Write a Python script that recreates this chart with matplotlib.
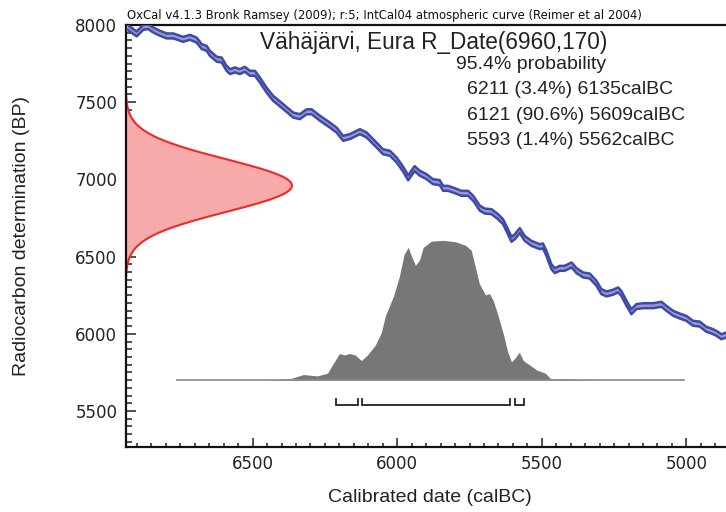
import matplotlib.pyplot as plt
import numpy as np
from matplotlib.ticker import MultipleLocator

# IntCal04 atmospheric curve over the plotted range (calBC, BP)
cal_bc = [6933, 6901, 6878, 6861, 6844, 6820, 6797, 6774, 6740, 6717, 6694, 6676,
          6659, 6648, 6624, 6607, 6590, 6578, 6561, 6544, 6527, 6509, 6492, 6475,
          6452, 6429, 6394, 6360, 6337, 6313, 6296, 6267, 6233, 6210, 6187, 6164,
          6152, 6129, 6106, 6083, 6066, 6049, 6025, 6002, 5979, 5962, 5940, 5922,
          5899, 5876, 5853, 5841, 5824, 5801, 5778, 5755, 5737, 5714, 5697, 5674,
          5651, 5634, 5617, 5605, 5593, 5576, 5559, 5536, 5507, 5496, 5484, 5467,
          5455, 5438, 5421, 5397, 5380, 5357, 5334, 5311, 5294, 5276, 5254, 5236,
          5225, 5207, 5190, 5173, 5150, 5115, 5086, 5069, 5046, 5023, 5000, 4977,
          4954, 4931, 4913, 4896, 4879, 4862]
c14_bp = [7985, 7942, 7985, 7989, 7968, 7946, 7929, 7929, 7907, 7920, 7903, 7860,
          7849, 7817, 7778, 7773, 7719, 7698, 7709, 7698, 7713, 7687, 7687, 7644,
          7579, 7525, 7471, 7417, 7406, 7438, 7438, 7396, 7352, 7320, 7266, 7277,
          7288, 7309, 7288, 7244, 7212, 7179, 7169, 7126, 7065, 7010, 7070, 7040,
          7018, 6985, 6979, 6942, 6942, 6927, 6910, 6910, 6877, 6813, 6795, 6791,
          6758, 6726, 6661, 6612, 6629, 6668, 6618, 6586, 6564, 6569, 6521, 6435,
          6409, 6424, 6424, 6446, 6409, 6381, 6374, 6327, 6273, 6258, 6269, 6284,
          6262, 6197, 6143, 6176, 6182, 6182, 6191, 6165, 6133, 6115, 6100, 6068,
          6063, 6029, 6018, 6003, 5981, 5992]
curve_sigma = 16

# Radiocarbon measurement R_Date(6960,170)
sample_name = "Vähäjärvi, Eura"
r_date_bp = 6960
r_date_err = 170

# Calibrated probability, relative to its maximum
post_bc = [6763, 6500, 6435, 6371, 6324, 6276, 6241, 6221, 6200, 6183, 6165, 6145,
           6124, 6103, 6076, 6055, 6041, 6013, 5993, 5976, 5962, 5951, 5937, 5923,
           5910, 5882, 5840, 5799, 5764, 5744, 5730, 5716, 5695, 5681, 5668, 5654,
           5633, 5619, 5605, 5592, 5578, 5564, 5543, 5516, 5488, 5467, 5426, 5370,
           5300, 5008]
post_prob = [0, 0, 0.002, 0.01, 0.04, 0.03, 0.05, 0.12, 0.19, 0.18, 0.19, 0.18,
             0.14, 0.18, 0.25, 0.34, 0.46, 0.60, 0.74, 0.90, 0.95, 0.89, 0.82, 0.86,
             0.95, 0.995, 1.0, 0.99, 0.965, 0.93, 0.81, 0.69, 0.61, 0.62, 0.57, 0.48,
             0.33, 0.21, 0.13, 0.16, 0.20, 0.14, 0.11, 0.07, 0.05, 0.005, 0.012, 0.004,
             0, 0]

# 95.4% probability ranges (calBC)
range_from = [6211, 6121, 5593]
range_to = [6135, 5609, 5562]
range_pct = [3.4, 90.6, 1.4]

text_font = "Liberation Sans"

fig = plt.figure(figsize=(7.26, 5.12), dpi=100)
ax = fig.add_axes([0.1731, 0.127, 0.8269, 0.8242])

# calibration curve band
cal = np.array(c14_bp, dtype=float)
ax.fill_between(cal_bc, cal - curve_sigma, cal + curve_sigma, color="#9a9ad2", lw=0, zorder=3)
ax.plot(cal_bc, cal + curve_sigma, color="#3d4aa6", lw=1.8, zorder=4)
ax.plot(cal_bc, cal - curve_sigma, color="#3d4aa6", lw=1.8, zorder=4)

# measured date as a normal distribution on the y axis
bp = np.linspace(r_date_bp - 4 * r_date_err, r_date_bp + 4 * r_date_err, 400)
dens = np.exp(-0.5 * ((bp - r_date_bp) / r_date_err) ** 2)
yx = ax.get_yaxis_transform()
ax.fill_betweenx(bp, 0, dens * 0.277, transform=yx, color="#f6aaaa", lw=0, zorder=2)
ax.plot(dens * 0.277, bp, transform=yx, color="#ec2a2a", lw=1.5, zorder=2)

# calibrated distribution
base = 5700
height = 905
prob = np.array(post_prob)
ax.fill_between(post_bc, base, base + prob * height, color="#777777", lw=0, zorder=2)
ax.plot([post_bc[0], post_bc[-1]], [base, base], color="#8a8a8a", lw=1.2, zorder=2)

# range brackets
for a, b in zip(range_from, range_to):
    ax.plot([a, a, b, b], [5575, 5537, 5537, 5575], color="#222222", lw=1.3,
            solid_joinstyle="miter", zorder=3)

ax.set_xlim(6939, 4863)
ax.set_ylim(5267, 8000)
ax.xaxis.set_major_locator(MultipleLocator(500))
ax.xaxis.set_minor_locator(MultipleLocator(50))
ax.yaxis.set_major_locator(MultipleLocator(500))
ax.yaxis.set_minor_locator(MultipleLocator(50))
ax.tick_params(axis="both", which="both", direction="in", colors="#222222",
               labelsize=12, width=1.1)
ax.tick_params(axis="x", which="major", length=6.5, pad=6)
ax.tick_params(axis="x", which="minor", length=3)
ax.tick_params(axis="y", which="major", length=7.5, pad=6)
ax.tick_params(axis="y", which="minor", length=4)
for lab in ax.get_xticklabels() + ax.get_yticklabels():
    lab.set_color("#222222")
ax.spines["right"].set_visible(False)
for side in ("left", "bottom", "top"):
    ax.spines[side].set_linewidth(1.6)
    ax.spines[side].set_color("#111111")

ax.set_xlabel("Calibrated date (calBC)", fontsize=14, family=text_font, color="#222222")
ax.set_ylabel("Radiocarbon determination (BP)", fontsize=14, family=text_font, color="#222222")
ax.xaxis.set_label_coords(0.507, -0.099)
ax.yaxis.set_label_coords(-0.16, 0.5)

ax.text(0.003, 1.006, "OxCal v4.1.3 Bronk Ramsey (2009); r:5; IntCal04 atmospheric curve (Reimer et al 2004)",
        transform=ax.transAxes, fontsize=8.4, ha="left", va="bottom", color="#111111")

ax.text(0.803, 0.958, f"{sample_name} R_Date({r_date_bp},{r_date_err})",
        transform=ax.transAxes, fontsize=16.3, family=text_font, ha="right", va="center",
        color="#222222")
ax.text(0.55, 0.907, "95.4% probability", transform=ax.transAxes, fontsize=14,
        family=text_font, ha="left", va="center", color="#222222")
for i, (a, b, p) in enumerate(zip(range_from, range_to, range_pct)):
    ax.text(0.569, 0.846 - i * 0.06, f"{a} ({p}%) {b}calBC", transform=ax.transAxes,
            fontsize=14, family=text_font, ha="left", va="center", color="#222222")

fig.savefig("out.png", dpi=100)
